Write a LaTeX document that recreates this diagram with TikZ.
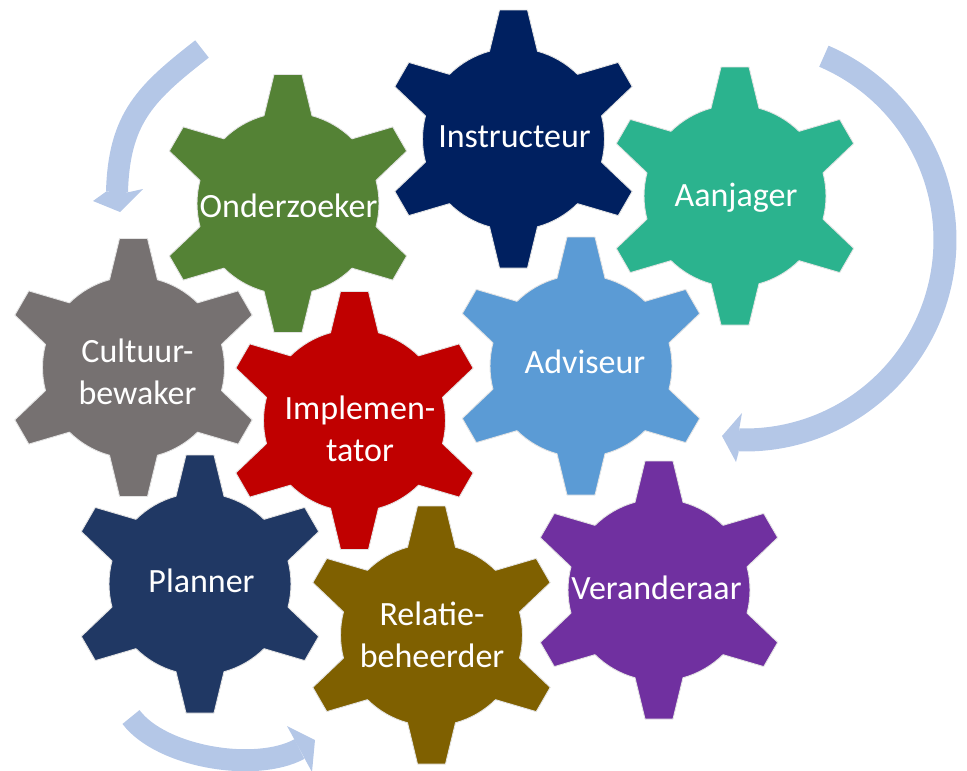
\documentclass[tikz,border=0pt]{standalone}
\usepackage{fontspec}
\setmainfont{Carlito}
\definecolor{cInstr}{HTML}{002060}
\definecolor{cOnder}{HTML}{548235}
\definecolor{cAanj}{HTML}{2BB38E}
\definecolor{cCult}{HTML}{767171}
\definecolor{cImpl}{HTML}{C00000}
\definecolor{cAdv}{HTML}{5B9BD5}
\definecolor{cPlan}{HTML}{203864}
\definecolor{cRel}{HTML}{7F6000}
\definecolor{cVer}{HTML}{7030A0}
\definecolor{cArrow}{HTML}{B4C7E7}
\definecolor{gearedge}{HTML}{E4E4E4}
\begin{document}
\begin{tikzpicture}[x=1pt,y=-1pt,
  % six-tooth gear: body radius 91, teeth reaching 130
  pics/gear/.style={code={
    \filldraw[fill=#1, draw=gearedge, line width=0.9pt, line join=round]
      (14.71:91)
      \foreach \a in {30,90,...,330}{
        -- (\a-6.19:129.76) -- (\a+6.19:129.76) -- (\a+15.29:91)
        arc[start angle=\a+15.29, delta angle=29.42, radius=91]
      } -- cycle;
  }},
  lbl/.style={text=white, inner sep=0pt, anchor=base,
    font=\fontsize{34}{42}\selectfont},
  band/.style={draw=cArrow, line cap=butt},
  head/.style={fill=cArrow},
]
\useasboundingbox (0,0) rectangle (967,771);
\clip (0,0) rectangle (967,771);

% circular arrows
\draw[band, line width=22pt] (202,49) .. controls (147,92) and (119,117) .. (117,192);
\fill[head] (106,191.7) -- (93,201) -- (120,212) -- (143,189) -- (128,192.3) -- cycle;

\draw[band, line width=23pt] plot[domain=-66.77:91.7, samples=80, smooth]
  ({745+200*cos(\x)}, {240+200*sin(\x)});
\fill[head] (739.4,427.9) -- (742,413) -- (722,436) -- (736,462) -- (738.7,451.9) -- cycle;

\draw[band, line width=22pt] (131,717) .. controls (161,757) and (255.6,772.9) .. (299.5,749);
\fill[head] (294.3,739.3) -- (287,726) -- (315,740) -- (312,772) -- (304.7,758.7) -- cycle;

% gears
\pic (gInstr) at (513.5,139) {gear=cInstr};
\pic (gOnder) at (288,203.5) {gear=cOnder};
\pic (gAanj)  at (735,196)   {gear=cAanj};
\pic (gCult)  at (133.5,367.5) {gear=cCult};
\pic (gImpl)  at (354.5,420.5) {gear=cImpl};
\pic (gAdv)   at (581,366)   {gear=cAdv};
\pic (gPlan)  at (200,584)   {gear=cPlan};
\pic (gRel)   at (431.5,635) {gear=cRel};
\pic (gVer)   at (659,590)   {gear=cVer};

% labels
\node[lbl] (tInstr) at (514.5,147) {Instructeur};
\node[lbl] (tOnder) at (288.5,217) {Onderzoeker};
\node[lbl] (tAanj)  at (736,206)   {Aanjager};
\node[lbl] (tCult)  at (137.5,362) {\begin{tabular}[t]{@{}c@{}}Cultuur-\\bewaker\end{tabular}};
\node[lbl] (tImpl)  at (360,419)   {\begin{tabular}[t]{@{}c@{}}Implemen-\\tator\end{tabular}};
\node[lbl] (tAdv)   at (585,373)   {Adviseur};
\node[lbl] (tPlan)  at (201.5,592) {Planner};
\node[lbl] (tRel)   at (432,625)   {\begin{tabular}[t]{@{}c@{}}Relatie-\\beheerder\end{tabular}};
\node[lbl] (tVer)   at (656.5,599) {Veranderaar};
\end{tikzpicture}
\end{document}
